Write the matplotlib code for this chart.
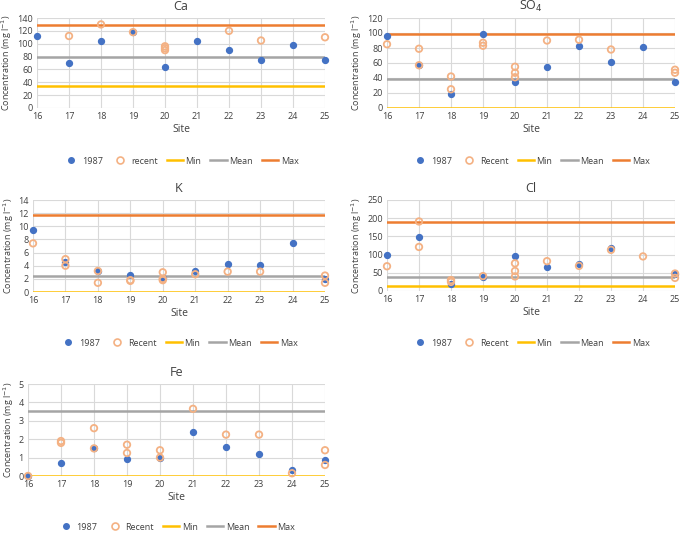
import matplotlib.pyplot as plt
from matplotlib.lines import Line2D

sites = list(range(16, 26))

ca_1987 = [112, 70, 104, 118, 63, 104, 90, 74, 98, 75]
ca_recent_x = [17, 18, 19, 20, 20, 20, 22, 23, 25]
ca_recent_y = [112, 130, 118, 96, 93, 90, 120, 105, 110]
ca_lines = (34, 79, 129)

so4_1987 = [96, 57, 18, 98, 35, 54, 82, 61, 81, 35]
so4_recent_x = [16, 17, 17, 18, 18, 19, 19, 20, 20, 20, 21, 22, 23, 25, 25]
so4_recent_y = [85, 79, 57, 42, 25, 87, 83, 55, 47, 41, 90, 91, 78, 51, 47]
so4_lines = (0, 38, 98)

k_1987 = [9.4, 4.5, 3.2, 2.6, 2.1, 3.2, 4.3, 4.1, 7.4, 2.0]
k_recent_x = [16, 17, 17, 18, 18, 19, 19, 20, 20, 20, 21, 22, 23, 25, 25]
k_recent_y = [7.4, 5.0, 4.0, 3.2, 1.4, 1.8, 1.7, 3.0, 2.0, 1.8, 2.7, 3.1, 3.1, 2.5, 1.4]
k_lines = (0, 2.4, 11.7)

cl_1987_x = [16, 17, 18, 19, 20, 21, 22, 23, 25]
cl_1987 = [99, 149, 20, 38, 97, 66, 73, 118, 48]
cl_recent_x = [16, 17, 17, 18, 18, 19, 20, 20, 20, 21, 22, 23, 24, 25, 25]
cl_recent_y = [68, 191, 121, 30, 25, 41, 76, 55, 40, 82, 69, 113, 95, 48, 36]
cl_lines = (15, 38, 190)

fe_1987 = [0, 0.7, 1.5, 0.95, 1.0, 2.4, 1.6, 1.2, 0.35, 0.85]
fe_recent_x = [16, 17, 17, 18, 18, 19, 19, 20, 20, 21, 22, 23, 24, 25, 25]
fe_recent_y = [0, 1.9, 1.8, 2.6, 1.5, 1.7, 1.25, 1.4, 1.0, 3.65, 2.25, 2.25, 0.15, 1.4, 0.6]
fe_lines = (0, 3.55, 7.5)

BLUE = "#4472C4"
ORANGE = "#F4B183"
MIN_C, MEAN_C, MAX_C = "#FFC000", "#A5A5A5", "#ED7D31"

plt.rcParams["font.family"] = "Open Sans"
fig = plt.figure(figsize=(6.8, 5.33), dpi=100)
W, H = 680, 533


def panel(rect, title, x1, y1, rx, ry, lines, ymax, step, recent_label):
    left, top, right, bottom, leg_y = rect
    ax = fig.add_axes([left / W, 1 - bottom / H, (right - left) / W, (bottom - top) / H])
    mn, me, mx = lines
    ax.axhline(mn, color=MIN_C, lw=1.8, zorder=2)
    ax.axhline(me, color=MEAN_C, lw=1.8, zorder=2)
    ax.axhline(mx, color=MAX_C, lw=1.8, zorder=2)
    ax.scatter(x1, y1, s=18, color=BLUE, zorder=3, clip_on=False)
    ax.scatter(rx, ry, s=22, facecolors="none", edgecolors=ORANGE, linewidths=1.3, zorder=4, clip_on=False)
    ax.set_xlim(16, 25)
    ax.set_ylim(0, ymax)
    ax.set_xticks(sites)
    ax.set_yticks([i * step for i in range(int(round(ymax / step)) + 1)])
    ax.grid(True, color="#D9D9D9", lw=0.8)
    ax.set_axisbelow(True)
    for s in ax.spines.values():
        s.set_visible(False)
    ax.tick_params(length=0, labelsize=6.5, colors="#404040", pad=3)
    ax.set_title(title, fontsize=9, color="#404040", pad=6)
    ax.set_xlabel("Site", fontsize=7.5, color="#404040", labelpad=2)
    ax.set_ylabel("Concentration (mg l$^{-1}$)", fontsize=6.5, color="#404040", labelpad=2)
    handles = [
        Line2D([], [], ls="", marker="o", ms=4, color=BLUE),
        Line2D([], [], ls="", marker="o", ms=5, mfc="none", mec=ORANGE, mew=1.2),
        Line2D([], [], color=MIN_C, lw=1.8),
        Line2D([], [], color=MEAN_C, lw=1.8),
        Line2D([], [], color=MAX_C, lw=1.8),
    ]
    fig.legend(handles, ["1987", recent_label, "Min", "Mean", "Max"], ncol=5, frameon=False,
               loc="center", bbox_to_anchor=((left + right) / 2 / W, 1 - leg_y / H),
               fontsize=6.5, handlelength=1.8, handletextpad=0.3, columnspacing=1.0,
               labelcolor="#404040")
    return ax


panel((37, 18, 325, 108, 161), "Ca", sites, ca_1987, ca_recent_x, ca_recent_y, ca_lines, 140, 20, "recent")
panel((387, 18, 675, 108, 161), "SO$_4$", sites, so4_1987, so4_recent_x, so4_recent_y, so4_lines, 120, 20, "Recent")
panel((33, 200, 325, 292, 343), "K", sites, k_1987, k_recent_x, k_recent_y, k_lines, 14, 2, "Recent")
panel((387, 200, 675, 291, 343), "Cl", cl_1987_x, cl_1987, cl_recent_x, cl_recent_y, cl_lines, 250, 50, "Recent")
panel((28, 384, 325, 476, 527), "Fe", sites, fe_1987, fe_recent_x, fe_recent_y, fe_lines, 5, 1, "Recent")

fig.savefig("out.png", dpi=100)
